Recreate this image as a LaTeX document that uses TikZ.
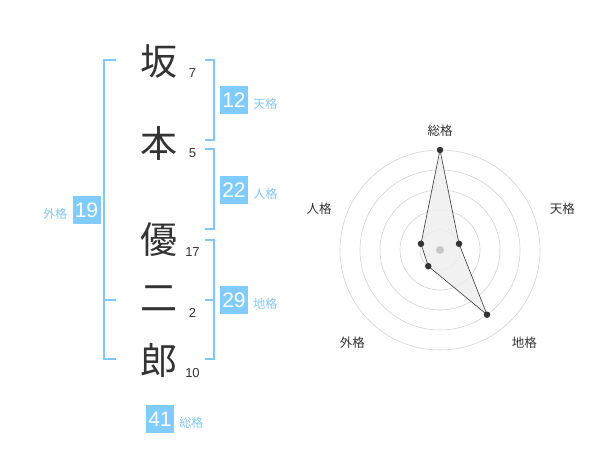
\documentclass[tikz,border=0pt]{standalone}
\usepackage{fontspec}
\setmainfont{Liberation Sans}
\newfontfamily\jpfont{Noto Sans CJK JP}
\usepackage{tikz}
\usetikzlibrary{positioning}
\definecolor{ink}{RGB}{51,51,51}
\definecolor{boxblue}{RGB}{128,204,255}
\definecolor{lblblue}{RGB}{130,200,245}
\definecolor{lineblue}{RGB}{128,200,250}
\definecolor{ringgray}{RGB}{210,210,210}
\definecolor{polyfill}{RGB}{238,238,238}
\definecolor{centergray}{RGB}{200,200,200}

\begin{document}
\begin{tikzpicture}[x=1pt,y=1pt]
\tikzset{kanji/.style = {font=\jpfont\fontsize{37}{37}\selectfont,text=ink,inner sep=0pt}}
\tikzset{stroke/.style = {font=\fontsize{13}{13}\selectfont,text=ink,inner sep=0pt}}
\tikzset{score/.style = {fill=boxblue,text=white,minimum size=28pt,inner sep=0pt,font=\fontsize{21}{21}\selectfont}}
\tikzset{kaku/.style = {font=\jpfont\fontsize{12}{12}\selectfont,text=lblblue,inner sep=0pt,yshift=-3.5pt}}
\tikzset{bracket/.style = {draw=lineblue,line width=1.6pt}}
\tikzset{ring/.style = {draw=ringgray,line width=0.6pt}}
\tikzset{axis/.style = {font=\jpfont\fontsize{12.5}{12.5}\selectfont,text=ink,inner sep=0pt}}
\tikzset{dot/.style = {shape=circle,fill=ink,inner sep=0pt,minimum size=6.5pt}}
\useasboundingbox (0,0) rectangle (600,470);
% name
\node[kanji] (k1) at (159,409) {坂};
\node[kanji] (k2) at (159,327) {本};
\node[kanji] (k3) at (159,230) {優};
\node[kanji] (k4) at (159,171) {二};
\node[kanji] (k5) at (159,109) {郎};
% strokes
\node[stroke] (n1) at (192.5,397) {7};
\node[stroke] (n2) at (192.5,317) {5};
\node[stroke] (n3) at (192.5,218) {17};
\node[stroke] (n4) at (192.5,157) {2};
\node[stroke] (n5) at (192.5,97) {10};
% brackets
\draw[bracket] (116,410) -- (104,410) -- (104,110.7) -- (116,110.7);
\draw[bracket] (104,170) -- (116,170);
\draw[bracket] (205,410) -- (214,410) -- (214,330) -- (205,330);
\draw[bracket] (205,320.7) -- (214,320.7) -- (214,240.7) -- (205,240.7);
\draw[bracket] (205,230) -- (214,230) -- (214,110.7) -- (205,110.7);
\draw[bracket] (205,170) -- (214,170);
% scores
\node[score] (ten) at (234,370) {12};
\node[kaku,right=5pt of ten] (tenl) {天格};
\node[score] (jin) at (234,280) {22};
\node[kaku,right=5pt of jin] (jinl) {人格};
\node[score] (gai) at (86.5,260) {19};
\node[kaku,left=5pt of gai] (gail) {外格};
\node[score] (chi) at (234,170) {29};
\node[kaku,right=5pt of chi] (chil) {地格};
\node[score] (sou) at (160,51) {41};
\node[kaku,right=5pt of sou] (soul) {総格};
% radar
\coordinate (c) at (440,220);
\foreach \r in {20,40,60,80,100}
  \draw[ring] (c) circle (\r);
\begin{scope}[shift={(c)}]
\coordinate (pS) at (90:100);
\coordinate (pT) at (18:20);
\coordinate (pC) at (-54:80);
\coordinate (pG) at (-126:20);
\coordinate (pJ) at (162:20);
\fill[polyfill,opacity=0.8] (pS) -- (pT) -- (pC) -- (pG) -- (pJ) -- cycle;
\fill[centergray] (0,0) circle (4);
\draw[ink,line width=0.6pt] (pS) -- (pT) -- (pC) -- (pG) -- (pJ) -- cycle;
\foreach \p in {pS,pT,pC,pG,pJ}
  \node[dot] at (\p) {};
\end{scope}
\node[axis] (aS) at (440,339.3) {総格};
\node[axis] (aT) at (562.3,261) {天格};
\node[axis] (aC) at (524.3,127.7) {地格};
\node[axis] (aG) at (352.3,127.7) {外格};
\node[axis] (aJ) at (319,261) {人格};
\end{tikzpicture}
\end{document}
